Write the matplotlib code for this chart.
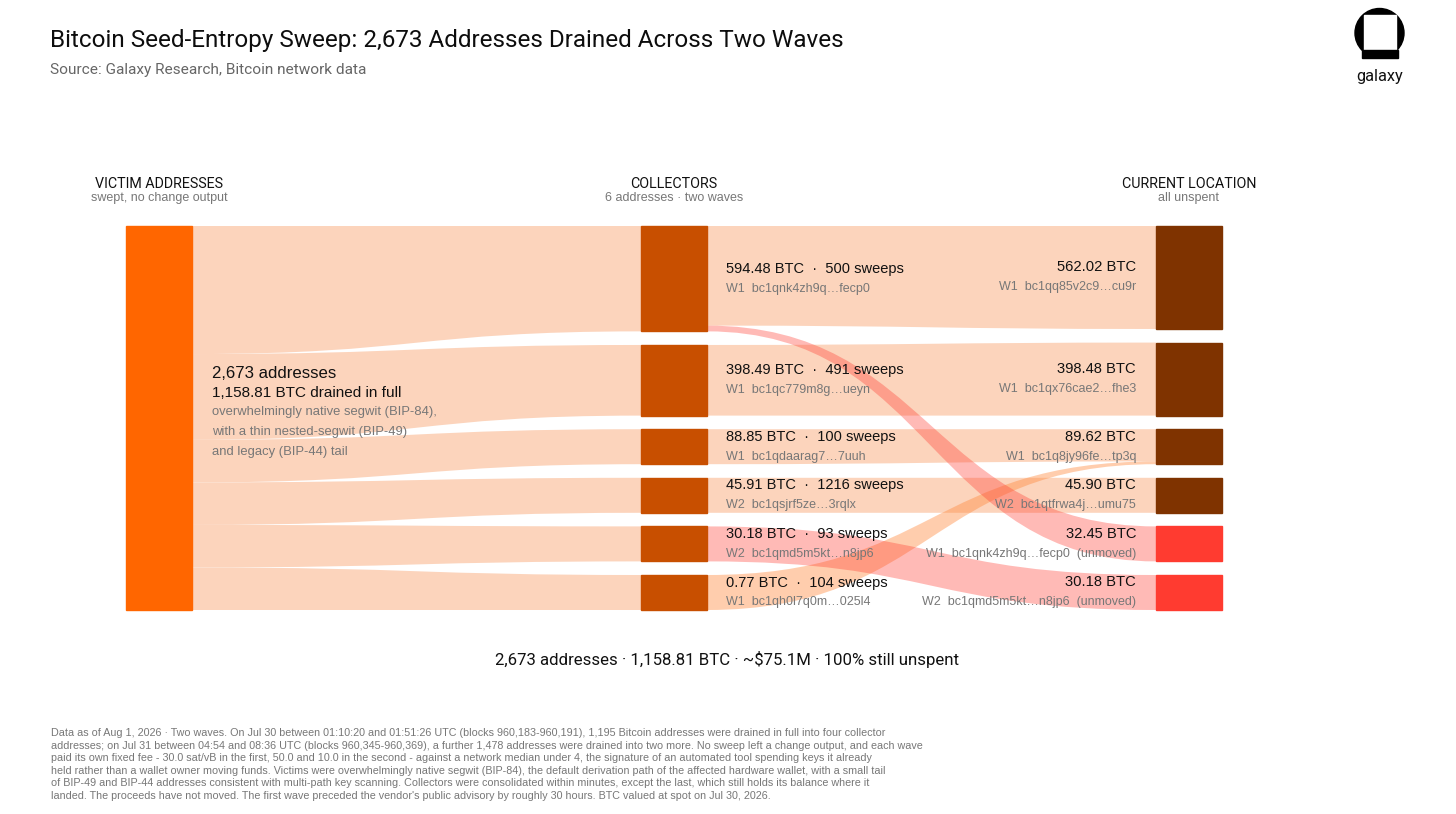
import numpy as np
import matplotlib.pyplot as plt
from matplotlib.path import Path
from matplotlib.patches import PathPatch, Rectangle, Circle

# ---- data ----
victim_addresses = 2673
victim_btc = 1158.81
usd_value = "~$75.1M"

collector_btc = [594.48, 398.49, 88.85, 45.91, 30.18, 0.77]
collector_sweeps = [500, 491, 100, 1216, 93, 104]
collector_wave = ["W1", "W1", "W1", "W2", "W2", "W1"]
collector_addr = ["bc1qnk4zh9q…fecp0", "bc1qc779m8g…ueyn", "bc1qdaarag7…7uuh",
                  "bc1qsjrf5ze…3rqlx", "bc1qmd5m5kt…n8jp6", "bc1qh0l7q0m…025l4"]

location_btc = [562.02, 398.48, 89.62, 45.90, 32.45, 30.18]
location_wave = ["W1", "W1", "W1", "W2", "W1", "W2"]
location_addr = ["bc1qq85v2c9…cu9r", "bc1qx76cae2…fhe3", "bc1q8jy96fe…tp3q",
                 "bc1qtfrwa4j…umu75", "bc1qnk4zh9q…fecp0", "bc1qmd5m5kt…n8jp6"]
location_unmoved = [False, False, False, False, True, True]

# collector -> current location
onward_src = [0, 0, 1, 2, 5, 3, 4]
onward_dst = [0, 4, 1, 2, 2, 3, 5]
onward_btc = [562.02, 32.45, 398.48, 88.85, 0.77, 45.90, 30.18]

footer_lines = [
    "Data as of Aug 1, 2026 · Two waves. On Jul 30 between 01:10:20 and 01:51:26 UTC (blocks 960,183-960,191), 1,195 Bitcoin addresses were drained in full into four collector",
    "addresses; on Jul 31 between 04:54 and 08:36 UTC (blocks 960,345-960,369), a further 1,478 addresses were drained into two more. No sweep left a change output, and each wave",
    "paid its own fixed fee - 30.0 sat/vB in the first, 50.0 and 10.0 in the second - against a network median under 4, the signature of an automated tool spending keys it already",
    "held rather than a wallet owner moving funds. Victims were overwhelmingly native segwit (BIP-84), the default derivation path of the affected hardware wallet, with a small tail",
    "of BIP-49 and BIP-44 addresses consistent with multi-path key scanning. Collectors were consolidated within minutes, except the last, which still holds its balance where it",
    "landed. The proceeds have not moved. The first wave preceded the vendor's public advisory by roughly 30 hours. BTC valued at spot on Jul 30, 2026.",
]

# ---- style ----
C_VICTIM = "#FF6600"
C_COLLECT = "#C84F00"
C_LOC = "#7F3300"
C_UNMOVED = "#FF3B30"
C_LINK = "#FCD4BC"
HEAD = "Roboto"
BODY = "Liberation Sans"

TOP, BOTTOM, GAP, MIN_H = 226, 610, 13.6, 35
X_VIC, X_COL, X_LOC, NODE_W = 126, 641, 1156, 66


def column(values):
    n = len(values)
    avail = BOTTOM - TOP - GAP * (n - 1)
    small = [False] * n
    for _ in range(n):
        big = sum(v for v, s in zip(values, small) if not s)
        ky = (avail - MIN_H * sum(small)) / big
        new = [v * ky < MIN_H for v in values]
        if new == small:
            break
        small = new
    h = np.array([MIN_H if s else v * ky for v, s in zip(values, small)])
    y0 = TOP + np.concatenate([[0], np.cumsum(h[:-1] + GAP)])
    return y0, h


def band(ax, x0, x1, a0, b0, a1, b1, color, alpha=1.0, z=1):
    xm = (x0 + x1) / 2
    verts = [(x0, a0), (xm, a0), (xm, a1), (x1, a1), (x1, b1),
             (xm, b1), (xm, b0), (x0, b0), (x0, a0)]
    codes = [Path.MOVETO, Path.CURVE4, Path.CURVE4, Path.CURVE4, Path.LINETO,
             Path.CURVE4, Path.CURVE4, Path.CURVE4, Path.CLOSEPOLY]
    ax.add_patch(PathPatch(Path(verts, codes), facecolor=color, edgecolor="none",
                           alpha=alpha, zorder=z))


col_y, col_h = column(collector_btc)
loc_y, loc_h = column(location_btc)

fig = plt.figure(figsize=(14.56, 8.14), dpi=100)
ax = fig.add_axes([0, 0, 1, 1])
ax.set_xlim(0, 1456)
ax.set_ylim(814, 0)
ax.axis("off")

# victim -> collectors
src_h = col_h * (BOTTOM - TOP) / col_h.sum()
src_y = TOP + np.concatenate([[0], np.cumsum(src_h[:-1])])
for i in range(len(collector_btc)):
    band(ax, X_VIC + NODE_W, X_COL, src_y[i], src_y[i] + src_h[i],
         col_y[i], col_y[i] + col_h[i], C_LINK, z=1)

# collectors -> locations
src_btc = np.array(onward_btc)
out_w, in_w = {}, {}
for c in range(len(collector_btc)):
    idx = [k for k in range(len(onward_btc)) if onward_src[k] == c]
    idx.sort(key=lambda k: onward_dst[k])
    w = np.maximum(src_btc[idx] / src_btc[idx].sum() * col_h[c], 3)
    w = w * col_h[c] / w.sum()
    out_w.update(zip(idx, w))
for d in range(len(location_btc)):
    idx = [k for k in range(len(onward_btc)) if onward_dst[k] == d]
    idx.sort(key=lambda k: onward_src[k])
    w = np.maximum(src_btc[idx] / src_btc[idx].sum() * loc_h[d], 3)
    w = w * loc_h[d] / w.sum()
    in_w.update(zip(idx, w))

out_off = col_y.copy()
in_off = loc_y.copy()
src_pos, dst_pos = {}, {}
for k in sorted(range(len(onward_btc)), key=lambda k: (onward_src[k], onward_dst[k])):
    src_pos[k] = out_off[onward_src[k]]
    out_off[onward_src[k]] += out_w[k]
for k in sorted(range(len(onward_btc)), key=lambda k: (onward_dst[k], onward_src[k])):
    dst_pos[k] = in_off[onward_dst[k]]
    in_off[onward_dst[k]] += in_w[k]

for k in range(len(onward_btc)):
    s, d = onward_src[k], onward_dst[k]
    if location_unmoved[d]:
        color, alpha, z = C_UNMOVED, 0.35, 3
    elif s == d:
        color, alpha, z = C_LINK, 1.0, 1
    else:
        color, alpha, z = "#FF8A3D", 0.42, 2
    band(ax, X_COL + NODE_W, X_LOC, src_pos[k], src_pos[k] + out_w[k],
         dst_pos[k], dst_pos[k] + in_w[k], color, alpha, z)

# nodes
ax.add_patch(Rectangle((X_VIC, TOP), NODE_W, BOTTOM - TOP, color=C_VICTIM, zorder=4))
for i in range(len(collector_btc)):
    ax.add_patch(Rectangle((X_COL, col_y[i]), NODE_W, col_h[i], color=C_COLLECT, zorder=4))
for i in range(len(location_btc)):
    c = C_UNMOVED if location_unmoved[i] else C_LOC
    ax.add_patch(Rectangle((X_LOC, loc_y[i]), NODE_W, loc_h[i], color=c, zorder=4))

# labels
for i in range(len(collector_btc)):
    yc = col_y[i] + col_h[i] / 2
    ax.text(X_COL + NODE_W + 19, yc - 10,
            f"{collector_btc[i]:.2f} BTC  ·  {collector_sweeps[i]} sweeps",
            family=BODY, fontsize=10.5, color="#111111", va="center", ha="left", zorder=6)
    ax.text(X_COL + NODE_W + 19, yc + 10, f"{collector_wave[i]}  {collector_addr[i]}",
            family=BODY, fontsize=9.0, color="#777777", va="center", ha="left", zorder=6)
for i in range(len(location_btc)):
    yc = loc_y[i] + loc_h[i] / 2
    tail = "  (unmoved)" if location_unmoved[i] else ""
    ax.text(X_LOC - 20, yc - 10, f"{location_btc[i]:.2f} BTC",
            family=BODY, fontsize=10.6, color="#111111", va="center", ha="right", zorder=6)
    ax.text(X_LOC - 20, yc + 10, f"{location_wave[i]}  {location_addr[i]}{tail}",
            family=BODY, fontsize=9.0, color="#777777", va="center", ha="right", zorder=6)

yv = (TOP + BOTTOM) / 2
lx = X_VIC + NODE_W + 20
ax.text(lx, yv - 45, f"{victim_addresses:,} addresses", family=BODY, fontsize=12.1,
        color="#111111", va="center", zorder=6)
ax.text(lx, yv - 25, f"{victim_btc:,.2f} BTC drained in full", family=BODY, fontsize=11.0,
        color="#111111", va="center", zorder=6)
for j, line in enumerate(["overwhelmingly native segwit (BIP-84),",
                          "with a thin nested-segwit (BIP-49)",
                          "and legacy (BIP-44) tail"]):
    ax.text(lx, yv - 6 + 20 * j, line, family=BODY, fontsize=9.4, color="#777777",
            va="center", zorder=6)

# column headers
heads = [("VICTIM ADDRESSES", "swept, no change output", X_VIC),
         ("COLLECTORS", f"{len(collector_btc)} addresses · two waves", X_COL),
         ("CURRENT LOCATION", "all unspent", X_LOC)]
for h1, h2, x in heads:
    ax.text(x + NODE_W / 2, 184, h1, family=HEAD, fontsize=10.3, color="#111111",
            ha="center", va="center")
    ax.text(x + NODE_W / 2, 198, h2, family=BODY, fontsize=9.0, color="#777777",
            ha="center", va="center")

# title block
ax.text(50, 40, "Bitcoin Seed-Entropy Sweep: 2,673 Addresses Drained Across Two Waves",
        family=HEAD, fontsize=17.5, color="#0d0d0d", va="center")
ax.text(50, 70, "Source: Galaxy Research, Bitcoin network data",
        family=HEAD, fontsize=11.1, color="#666666", va="center")

# logo
ax.add_patch(Circle((1379.5, 33), 24.5, color="black"))
ax.add_patch(Rectangle((1363.5, 15), 32, 35, color="white"))
ax.add_patch(Rectangle((1362, 50), 35.5, 7.5, color="black"))
ax.text(1379.5, 76, "galaxy", family=HEAD, fontsize=11.8, color="#111111",
        ha="center", va="center")

# summary
ax.text(727, 660, f"{victim_addresses:,} addresses · {victim_btc:,.2f} BTC · {usd_value} · 100% still unspent",
        family=HEAD, fontsize=12.1, color="#111111", ha="center", va="center")

# footer
for j, line in enumerate(footer_lines):
    ax.text(51, 733 + 12.6 * j, line, family=BODY, fontsize=7.72, color="#777777",
            va="center")

fig.savefig("out.png", dpi=100)
